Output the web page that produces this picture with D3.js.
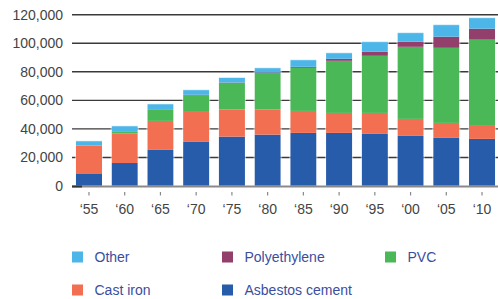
<!DOCTYPE html>
<html>
<head>
<meta charset="utf-8">
<script src="https://cdn.jsdelivr.net/npm/d3@7"></script>
<style>
  body { margin: 0; background: #fff; }
  svg { display: block; font-family: "Liberation Sans", Arial, sans-serif; }
</style>
</head>
<body>
<svg id="chart" width="498" height="299"></svg>
<script>
// Pipe length by material, in thousands.
var years = ['\u201855', '\u201860', '\u201865', '\u201870', '\u201875', '\u201880',
             '\u201885', '\u201890', '\u201895', '\u201800', '\u201805', '\u201810'];
var asbestosCement = [8.4, 16.1, 25.3, 30.9, 34.6, 36.0, 37.2, 37.2, 36.5, 35.1, 33.7, 33.0];
var castIron       = [19.9, 20.6, 20.3, 21.0, 19.0, 17.6, 15.4, 14.0, 14.7, 11.9, 10.5, 9.1];
var pvc            = [0, 1.2, 7.7, 11.5, 18.7, 25.2, 30.2, 36.5, 40.0, 50.5, 52.6, 60.4];
var polyethylene   = [0, 0, 0, 0.5, 0.2, 0.7, 0.7, 1.4, 2.8, 3.6, 7.8, 7.7];
var other          = [3.3, 4.2, 4.2, 3.5, 3.5, 3.3, 4.9, 4.2, 7.1, 6.3, 8.4, 7.7];
var yTicks = [0, 20000, 40000, 60000, 80000, 100000, 120000];

var series = [
  { name: 'Asbestos cement', values: asbestosCement, color: '#265ca9' },
  { name: 'Cast iron', values: castIron, color: '#f26f51' },
  { name: 'PVC', values: pvc, color: '#4bb858' },
  { name: 'Polyethylene', values: polyethylene, color: '#933f6b' },
  { name: 'Other', values: other, color: '#4db6e8' }
];

var svg = d3.select('#chart');

var x = d3.scaleBand()
  .domain(years)
  .range([72, 499])
  .paddingInner(0.27)
  .paddingOuter(0.11);

var y = d3.scaleLinear()
  .domain([0, 120000])
  .range([186, 14.7]);

// Gridlines first so the bars sit on top.
svg.append('g')
  .selectAll('line')
  .data(yTicks.filter(function(d) { return d > 0; }))
  .enter().append('line')
    .attr('x1', 72)
    .attr('x2', 498)
    .attr('y1', function(d) { return y(d); })
    .attr('y2', function(d) { return y(d); })
    .attr('stroke', '#3a3a3a')
    .attr('stroke-width', 1.4);

// Y tick labels.
svg.append('g')
  .selectAll('text')
  .data(yTicks)
  .enter().append('text')
    .attr('x', 63)
    .attr('y', function(d) { return y(d); })
    .attr('dy', '0.36em')
    .attr('text-anchor', 'end')
    .attr('font-size', 14)
    .attr('fill', '#444')
    .text(d3.format(',d'));

// Stack the series.
var rows = years.map(function(yr, i) {
  var row = { year: yr };
  series.forEach(function(s) { row[s.name] = s.values[i] * 1000; });
  return row;
});
var stacked = d3.stack().keys(series.map(function(s) { return s.name; }))(rows);

svg.append('g')
  .selectAll('g')
  .data(stacked)
  .enter().append('g')
    .attr('fill', function(d, i) { return series[i].color; })
  .selectAll('rect')
  .data(function(d) { return d; })
  .enter().append('rect')
    .attr('x', function(d) { return x(d.data.year); })
    .attr('width', x.bandwidth())
    .attr('y', function(d) { return y(d[1]); })
    .attr('height', function(d) { return y(d[0]) - y(d[1]); });

// Faint light edge round each bar.
svg.append('g')
  .selectAll('rect')
  .data(years)
  .enter().append('rect')
    .attr('x', function(d) { return x(d) - 0.5; })
    .attr('width', x.bandwidth() + 1)
    .attr('y', function(d, i) { return y(d3.sum(series, function(s) { return s.values[i] * 1000; })); })
    .attr('height', function(d, i) { return 186 - y(d3.sum(series, function(s) { return s.values[i] * 1000; })); })
    .attr('fill', 'none')
    .attr('stroke', 'rgba(255,255,255,0.55)')
    .attr('stroke-width', 1);

// Baseline.
svg.append('line')
  .attr('x1', 72).attr('x2', 498)
  .attr('y1', 186.5).attr('y2', 186.5)
  .attr('stroke', '#8a8a8a')
  .attr('stroke-width', 2);
svg.append('line')
  .attr('x1', 72).attr('x2', 82)
  .attr('y1', 186.5).attr('y2', 186.5)
  .attr('stroke', '#333')
  .attr('stroke-width', 2);

// X axis: small ticks and year labels.
var xAxis = svg.append('g');
xAxis.selectAll('line')
  .data(years)
  .enter().append('line')
    .attr('x1', function(d) { return x(d) + x.bandwidth() / 2; })
    .attr('x2', function(d) { return x(d) + x.bandwidth() / 2; })
    .attr('y1', 192)
    .attr('y2', 195.5)
    .attr('stroke', '#888')
    .attr('stroke-width', 1.2);
xAxis.selectAll('text')
  .data(years)
  .enter().append('text')
    .attr('x', function(d) { return x(d) + x.bandwidth() / 2; })
    .attr('y', 214)
    .attr('text-anchor', 'middle')
    .attr('font-size', 14)
    .attr('fill', '#444')
    .text(function(d) { return d; });

// Legend, in the reference's order.
var legendItems = [
  { s: series[4], x: 72, y: 257 },
  { s: series[3], x: 222, y: 257 },
  { s: series[2], x: 385, y: 257 },
  { s: series[1], x: 72, y: 290 },
  { s: series[0], x: 222, y: 290 }
];
var legend = svg.append('g')
  .selectAll('g')
  .data(legendItems)
  .enter().append('g')
    .attr('transform', function(d) { return 'translate(' + d.x + ',' + d.y + ')'; });
legend.append('rect')
  .attr('x', 0).attr('y', -5.5)
  .attr('width', 11).attr('height', 11)
  .attr('fill', function(d) { return d.s.color; });
legend.append('text')
  .attr('x', 22.5)
  .attr('dy', '0.36em')
  .attr('font-size', 14)
  .attr('fill', '#3b4e9e')
  .text(function(d) { return d.s.name; });
</script>
</body>
</html>
